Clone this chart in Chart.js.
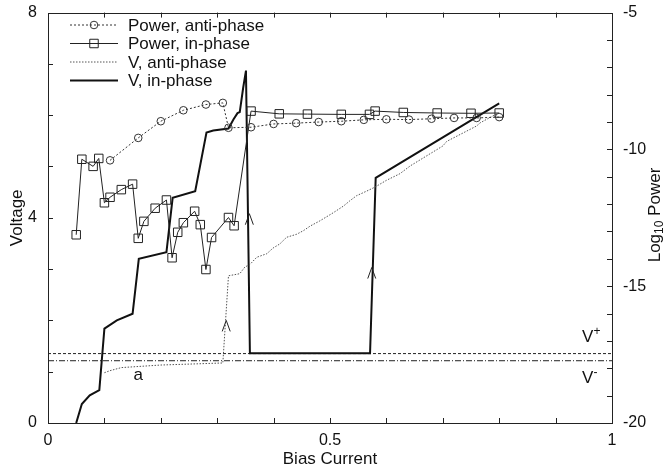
<!DOCTYPE html>
<html>
<head>
<meta charset="utf-8">
<script src="https://cdn.jsdelivr.net/npm/chart.js@4.4.0/dist/chart.umd.min.js"></script>
<style>
  body { margin: 0; background: #fff; }
</style>
</head>
<body>
<canvas id="myChart" width="668" height="473"></canvas>
<script>
// values
var powerAntiX = [0.11, 0.16, 0.20, 0.24, 0.28, 0.31, 0.32, 0.36, 0.40, 0.44, 0.48, 0.52, 0.56, 0.60, 0.64, 0.68, 0.72, 0.76, 0.80];
var powerAntiY = [-10.40, -9.58, -8.97, -8.57, -8.36, -8.30, -9.21, -9.19, -9.07, -9.04, -9.00, -8.97, -8.92, -8.90, -8.91, -8.88, -8.85, -8.85, -8.82];

var powerInX = [0.05, 0.06, 0.08, 0.09, 0.10, 0.11, 0.13, 0.15, 0.16, 0.17, 0.19, 0.21, 0.22, 0.23, 0.24, 0.26, 0.27, 0.28, 0.29, 0.32, 0.33, 0.36, 0.41, 0.46, 0.52, 0.57, 0.58, 0.63, 0.69, 0.75, 0.80];
var powerInY = [-13.12, -10.36, -10.62, -10.33, -11.95, -11.75, -11.47, -11.27, -13.25, -12.63, -12.15, -11.85, -13.96, -13.03, -12.68, -12.26, -12.75, -14.39, -13.22, -12.49, -12.79, -8.60, -8.70, -8.71, -8.72, -8.72, -8.60, -8.65, -8.67, -8.68, -8.67];

var vAntiX = [0.10, 0.11, 0.13, 0.20, 0.31, 0.32, 0.34, 0.349, 0.358, 0.37, 0.388, 0.399, 0.411, 0.423, 0.441, 0.453, 0.465, 0.482, 0.506, 0.524, 0.535, 0.547, 0.565, 0.58, 0.60, 0.624, 0.642, 0.70, 0.707, 0.76, 0.766, 0.798];
var vAntiY = [0.98, 1.02, 1.08, 1.13, 1.17, 2.87, 2.91, 3.04, 3.09, 3.23, 3.30, 3.41, 3.49, 3.62, 3.68, 3.75, 3.84, 3.94, 4.10, 4.23, 4.33, 4.43, 4.52, 4.60, 4.73, 4.86, 5.01, 5.40, 5.49, 5.79, 5.85, 6.04];

var vInX = [0.05, 0.06, 0.074, 0.091, 0.10, 0.122, 0.15, 0.161, 0.21, 0.221, 0.261, 0.281, 0.293, 0.32, 0.329, 0.336, 0.34, 0.346, 0.351, 0.358, 0.571, 0.581, 0.80];
var vInY = [0.0, 0.37, 0.54, 0.64, 1.84, 2.0, 2.13, 3.2, 3.33, 4.39, 4.52, 5.66, 5.70, 5.74, 5.92, 6.04, 6.06, 6.53, 6.87, 1.36, 1.36, 4.78, 6.23];

var vPlus = 1.353;
var vMinus = 1.214;

// arrow heads (pointing up) sitting on the jump lines
var arrowX = [0.316, 0.357, 0.574];
var arrowY = [2.0, 4.08, 3.03];

var xTicks = [0, 0.5, 1];
var yTicks = [0, 4, 8];
var y2Ticks = [-20, -15, -10, -5];

var FONT = "'Liberation Sans', Arial, sans-serif";

function pts(xs, ys) {
  return xs.map(function(x, i) { return { x: x, y: ys[i] }; });
}

var datasets = [
  {
    label: 'Power, anti-phase',
    data: pts(powerAntiX, powerAntiY),
    yAxisID: 'y2',
    borderColor: '#333',
    borderWidth: 1,
    borderDash: [2, 2],
    pointStyle: 'circle',
    pointRadius: 3.8,
    pointBorderColor: '#333',
    pointBackgroundColor: 'transparent',
    pointBorderWidth: 1
  },
  {
    label: 'Power, in-phase',
    data: pts(powerInX, powerInY),
    yAxisID: 'y2',
    borderColor: '#222',
    borderWidth: 1,
    pointStyle: 'rect',
    pointRadius: 6,
    pointBorderColor: '#222',
    pointBackgroundColor: 'transparent',
    pointBorderWidth: 1
  },
  {
    label: 'V, anti-phase',
    data: pts(vAntiX, vAntiY),
    yAxisID: 'y',
    borderColor: '#555',
    borderWidth: 1,
    borderDash: [1.5, 1.5],
    pointRadius: 0
  },
  {
    label: 'V, in-phase',
    data: pts(vInX, vInY),
    yAxisID: 'y',
    borderColor: '#111',
    borderWidth: 2,
    pointRadius: 0
  },
  {
    label: 'V+',
    data: [{ x: 0, y: vPlus }, { x: 1, y: vPlus }],
    yAxisID: 'y',
    borderColor: '#222',
    borderWidth: 1,
    borderDash: [3, 2],
    pointRadius: 0,
    noKey: true
  },
  {
    label: 'V-',
    data: [{ x: 0, y: vMinus }, { x: 1, y: vMinus }],
    yAxisID: 'y',
    borderColor: '#222',
    borderWidth: 1,
    borderDash: [6, 2, 1, 2],
    pointRadius: 0,
    noKey: true
  }
];

// frame, inward ticks, key, arrows and labels
var decor = {
  id: 'decor',
  afterDatasetsDraw: function(chart) {
    var ctx = chart.ctx, a = chart.chartArea, s = chart.scales;
    ctx.save();
    ctx.strokeStyle = '#222';
    ctx.lineWidth = 1;
    ctx.setLineDash([]);
    ctx.strokeRect(Math.round(a.left) + 0.5, Math.round(a.top) + 0.5, Math.round(a.right - a.left), Math.round(a.bottom - a.top));

    var tl = 5, v, p;
    ctx.beginPath();
    for (v = 0.1; v < 0.999; v += 0.1) {
      p = Math.round(s.x.getPixelForValue(v)) + 0.5;
      ctx.moveTo(p, a.bottom); ctx.lineTo(p, a.bottom - tl);
      ctx.moveTo(p, a.top); ctx.lineTo(p, a.top + tl);
    }
    for (v = 1; v < 8; v++) {
      p = Math.round(s.y.getPixelForValue(v)) + 0.5;
      ctx.moveTo(a.left, p); ctx.lineTo(a.left + tl, p);
    }
    for (v = -19; v < -5; v++) {
      p = Math.round(s.y2.getPixelForValue(v)) + 0.5;
      ctx.moveTo(a.right, p); ctx.lineTo(a.right - tl, p);
    }
    ctx.stroke();

    // arrow heads
    ctx.lineWidth = 1;
    for (var i = 0; i < arrowX.length; i++) {
      var ax = s.x.getPixelForValue(arrowX[i]);
      var ay = s.y.getPixelForValue(arrowY[i]);
      ctx.beginPath();
      ctx.moveTo(ax - 4, ay + 11);
      ctx.lineTo(ax, ay);
      ctx.lineTo(ax + 4, ay + 11);
      ctx.stroke();
    }

    // key
    ctx.textBaseline = 'middle';
    var rowY = [25, 43.5, 62, 80.5];
    chart.data.datasets.forEach(function(ds, k) {
      if (ds.noKey) return;
      var y = rowY[k];
      ctx.strokeStyle = ds.borderColor;
      ctx.lineWidth = ds.borderWidth;
      ctx.setLineDash(ds.borderDash || []);
      ctx.beginPath();
      ctx.moveTo(70, y);
      ctx.lineTo(118, y);
      ctx.stroke();
      ctx.setLineDash([]);
      if (ds.pointRadius > 0) {
        ctx.lineWidth = 1;
        ctx.fillStyle = 'rgba(0,0,0,0)';
        Chart.helpers.drawPoint(ctx, { pointStyle: ds.pointStyle, radius: ds.pointRadius, borderWidth: 1 }, 94, y);
      }
      ctx.fillStyle = '#111';
      ctx.font = '17px ' + FONT;
      ctx.fillText(ds.label, 128, y + 1);
    });

    // text labels in the plot
    ctx.fillStyle = '#111';
    ctx.font = '17px ' + FONT;
    ctx.textAlign = 'center';
    ctx.fillText('a', s.x.getPixelForValue(0.16), s.y.getPixelForValue(0.93));
    supLabel(ctx, '+', s.x.getPixelForValue(0.947), s.y.getPixelForValue(1.67));
    supLabel(ctx, '-', s.x.getPixelForValue(0.947), s.y.getPixelForValue(0.87));

    // right axis title, Log10 Power
    ctx.save();
    ctx.translate(655, 215);
    ctx.rotate(-Math.PI / 2);
    ctx.textAlign = 'left';
    ctx.textBaseline = 'middle';
    var big = '17px ' + FONT, small = '12px ' + FONT;
    ctx.font = big;
    var w1 = ctx.measureText('Log').width, w3 = ctx.measureText(' Power').width;
    ctx.font = small;
    var w2 = ctx.measureText('10').width;
    var x0 = -(w1 + w2 + w3) / 2;
    ctx.font = big;
    ctx.fillText('Log', x0, 0);
    ctx.font = small;
    ctx.fillText('10', x0 + w1, 5);
    ctx.font = big;
    ctx.fillText(' Power', x0 + w1 + w2, 0);
    ctx.restore();

    ctx.restore();
  }
};

function supLabel(ctx, sign, x, y) {
  ctx.save();
  ctx.textAlign = 'left';
  ctx.textBaseline = 'middle';
  ctx.font = '17px ' + FONT;
  ctx.fillText('V', x, y);
  var w = ctx.measureText('V').width;
  ctx.font = '12px ' + FONT;
  ctx.fillText(sign, x + w, y - 6);
  ctx.restore();
}

var ctx = document.getElementById('myChart').getContext('2d');
var chart = new Chart(ctx, {
  type: 'line',
  data: { datasets: datasets },
  options: {
    responsive: false,
    animation: false,
    devicePixelRatio: 1,
    layout: { padding: { top: 11, left: 0, right: 0, bottom: 0 } },
    elements: { line: { tension: 0 } },
    plugins: { legend: { display: false }, tooltip: { enabled: false } },
    scales: {
      x: {
        type: 'linear',
        min: 0, max: 1,
        grid: { display: false },
        border: { display: false },
        afterFit: function(sc) { sc.height = 50; },
        afterBuildTicks: function(sc) { sc.ticks = xTicks.map(function(v) { return { value: v }; }); },
        ticks: {
          padding: 0,
          color: '#111',
          font: { family: FONT, size: 16 },
          maxRotation: 0,
          callback: function(v) { return String(v); }
        },
        title: { display: true, text: 'Bias Current', color: '#111', font: { family: FONT, size: 17 }, padding: { top: 0, bottom: 3 } }
      },
      y: {
        position: 'left',
        min: 0, max: 8,
        grid: { display: false },
        border: { display: false },
        afterFit: function(sc) { sc.width = 48; },
        afterBuildTicks: function(sc) { sc.ticks = yTicks.map(function(v) { return { value: v }; }); },
        ticks: { padding: 3, color: '#111', font: { family: FONT, size: 16 } },
        title: { display: true, text: 'Voltage', color: '#111', font: { family: FONT, size: 17 }, padding: { top: 7, bottom: 0 } }
      },
      y2: {
        position: 'right',
        min: -20, max: -5,
        grid: { display: false },
        border: { display: false },
        afterFit: function(sc) { sc.width = 56; },
        afterBuildTicks: function(sc) { sc.ticks = y2Ticks.map(function(v) { return { value: v }; }); },
        ticks: { padding: 3, color: '#111', font: { family: FONT, size: 16 } }
      }
    }
  },
  plugins: [decor]
});
</script>
</body>
</html>
